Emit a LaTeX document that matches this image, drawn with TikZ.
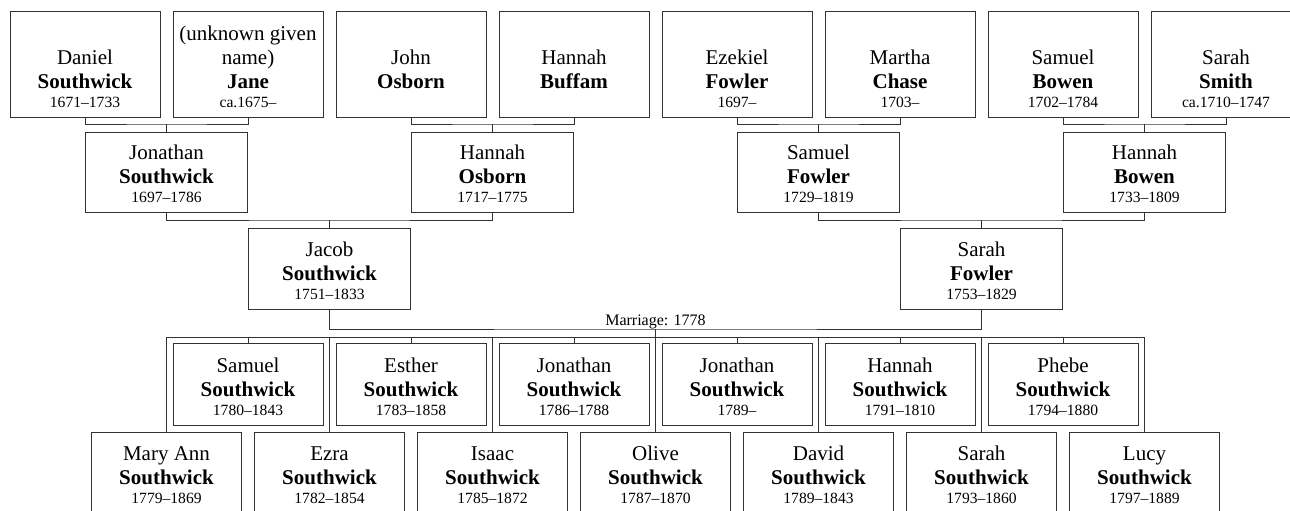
\documentclass[tikz,border=0pt]{standalone}
\usepackage{fontspec}
\setmainfont{Liberation Serif}
\usetikzlibrary{calc}
\tikzset{
  pbox/.style={draw=black!80, line width=1pt, fill=white, rectangle, inner sep=0pt,
    minimum width=150pt, anchor=south},
  gwide/.style={minimum width=162pt},
  rowtop/.style={minimum height=106pt},
  rowgen/.style={minimum height=80pt},
  rowkid/.style={minimum height=82pt},
  rowlow/.style={minimum height=81pt},
  given/.style={anchor=base, inner sep=0pt, font=\fontsize{21}{24}\selectfont},
  surname/.style={anchor=base, inner sep=0pt, font=\fontsize{21}{24}\selectfont\bfseries},
  dates/.style={anchor=base, inner sep=0pt, font=\fontsize{15.6}{18}\selectfont},
  marrlabel/.style={anchor=base, inner sep=0pt, font=\fontsize{16}{18}\selectfont},
  conn/.style={draw=black!80, line width=1pt},
}
\newcommand\famperson[7]{%
  \node[pbox,#1] (#2) at (#3,#4) {};
  \node[given] (#2-g) at ($(#2.south)+(0,-53.5)$) {#5};
  \node[surname] (#2-s) at ($(#2.south)+(0,-29.5)$) {#6};
  \if\relax\detokenize{#7}\relax\else
  \node[dates] (#2-d) at ($(#2.south)+(0,-10.5)$) {#7};
  \fi
}
\begin{document}
\begin{tikzpicture}[x=1pt,y=-1pt]
\useasboundingbox (0,0) rectangle (1290,511);
\clip (0,0) rectangle (1290,511);
% generation 1
\famperson{rowtop}{daniel}{85}{118}{Daniel}{Southwick}{1671–1733}
\famperson{rowtop}{jane}{248}{118}{name)}{Jane}{ca.1675–}
\node[given] (jane-g0) at ($(jane.south)+(0,-77.5)$) {(unknown given};
\famperson{rowtop}{johnO}{411}{118}{John}{Osborn}{}
\famperson{rowtop}{hannahB}{574}{118}{Hannah}{Buffam}{}
\famperson{rowtop}{ezekiel}{737}{118}{Ezekiel}{Fowler}{1697–}
\famperson{rowtop}{martha}{900}{118}{Martha}{Chase}{1703–}
\famperson{rowtop}{samuelB}{1063}{118}{Samuel}{Bowen}{1702–1784}
\famperson{rowtop}{sarahS}{1226}{118}{Sarah}{Smith}{ca.1710–1747}
% generation 2
\famperson{rowgen,gwide}{jonathan}{166.5}{213}{Jonathan}{Southwick}{1697–1786}
\famperson{rowgen,gwide}{hannahO}{492.5}{213}{Hannah}{Osborn}{1717–1775}
\famperson{rowgen,gwide}{samuelF}{818.5}{213}{Samuel}{Fowler}{1729–1819}
\famperson{rowgen,gwide}{hannahBo}{1144.5}{213}{Hannah}{Bowen}{1733–1809}
% generation 3
\famperson{rowlow,gwide}{jacob}{329.5}{310}{Jacob}{Southwick}{1751–1833}
\famperson{rowlow,gwide}{sarahF}{981.5}{310}{Sarah}{Fowler}{1753–1829}
% children, upper row
\famperson{rowkid}{samuel}{248}{426}{Samuel}{Southwick}{1780–1843}
\famperson{rowkid}{esther}{411}{426}{Esther}{Southwick}{1783–1858}
\famperson{rowkid}{jonathanA}{574}{426}{Jonathan}{Southwick}{1786–1788}
\famperson{rowkid}{jonathanB}{737}{426}{Jonathan}{Southwick}{1789–}
\famperson{rowkid}{hannahS}{900}{426}{Hannah}{Southwick}{1791–1810}
\famperson{rowkid}{phebe}{1063}{426}{Phebe}{Southwick}{1794–1880}
% children, lower row
\famperson{rowlow}{maryann}{166.5}{514}{Mary Ann}{Southwick}{1779–1869}
\famperson{rowlow}{ezra}{329.5}{514}{Ezra}{Southwick}{1782–1854}
\famperson{rowlow}{isaac}{492.5}{514}{Isaac}{Southwick}{1785–1872}
\famperson{rowlow}{olive}{655.5}{514}{Olive}{Southwick}{1787–1870}
\famperson{rowlow}{david}{818.5}{514}{David}{Southwick}{1789–1843}
\famperson{rowlow}{sarahSo}{981.5}{514}{Sarah}{Southwick}{1793–1860}
\famperson{rowlow}{lucy}{1144.5}{514}{Lucy}{Southwick}{1797–1889}
% parent brackets
\draw[conn] (daniel.south) |- ($(jonathan.north)+(0,-8)$) -| (jane.south);
\draw[conn] (jonathan.north) -- ++(0,-8);
\draw[conn] (johnO.south) |- ($(hannahO.north)+(0,-8)$) -| (hannahB.south);
\draw[conn] (hannahO.north) -- ++(0,-8);
\draw[conn] (ezekiel.south) |- ($(samuelF.north)+(0,-8)$) -| (martha.south);
\draw[conn] (samuelF.north) -- ++(0,-8);
\draw[conn] (samuelB.south) |- ($(hannahBo.north)+(0,-8)$) -| (sarahS.south);
\draw[conn] (hannahBo.north) -- ++(0,-8);
\draw[conn] (jonathan.south) |- ($(jacob.north)+(0,-8)$) -| (hannahO.south);
\draw[conn] (jacob.north) -- ++(0,-8);
\draw[conn] (samuelF.south) |- ($(sarahF.north)+(0,-8)$) -| (hannahBo.south);
\draw[conn] (sarahF.north) -- ++(0,-8);
% marriage
\coordinate (marr) at (655.5,329);
\coordinate (famL) at (166.5,337);
\coordinate (famR) at (1144.5,337);
\draw[conn] (jacob.south) |- (marr) -| (sarahF.south);
\node[marrlabel] (marrtext) at (655.5,325.5) {Marriage: 1778};
\draw[conn] (marr) -- (olive.north);
\draw[conn] (famL) -- (famR);
\foreach \k in {maryann,ezra,isaac,david,sarahSo,lucy,samuel,esther,jonathanA,jonathanB,hannahS,phebe}{
  \draw[conn] (\k.north) -- (\k.north |- famL);
}
\end{tikzpicture}
\end{document}
